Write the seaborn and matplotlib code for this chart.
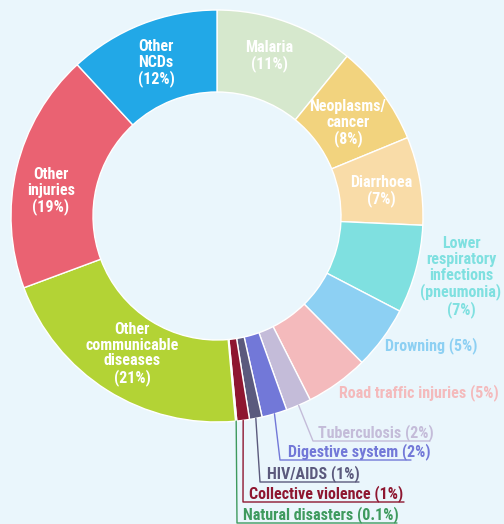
import numpy as np
import matplotlib
matplotlib.use("Agg")
import matplotlib.pyplot as plt
from matplotlib import font_manager
import seaborn as sns

# data, clockwise from 12 o'clock
causes = ["Malaria", "Neoplasms/\ncancer", "Diarrhoea",
          "Lower\nrespiratory\ninfections\n(pneumonia)", "Drowning",
          "Road traffic injuries", "Tuberculosis", "Digestive system",
          "HIV/AIDS", "Collective violence", "Natural disasters",
          "Other\ncommunicable\ndiseases", "Other\ninjuries", "Other\nNCDs"]
shares = [11, 8, 7, 7, 5, 5, 2, 2, 1, 1, 0.1, 21, 19, 12]
share_labels = ["11%", "8%", "7%", "7%", "5%", "5%", "2%", "2%", "1%",
                "1%", "0.1%", "21%", "19%", "12%"]
colors = ["#d6e8cd", "#f2d37e", "#f9dca8", "#7fe0e0", "#8dd0f3", "#f4babc",
          "#c4bcd9", "#7278d8", "#5b5a7d", "#8e1630", "#3e9a5e",
          "#b3d335", "#ea6272", "#22a8e7"]

BG = "#eaf6fc"
W, H = 504, 524
CX, CY, R, RIN = 217, 216, 206, 124

sns.set_style("white")
names = {f.name for f in font_manager.fontManager.ttflist}
fam = [f for f in ["Liberation Sans Narrow", "Roboto Condensed", "DejaVu Sans"] if f in names]
plt.rcParams["font.family"] = fam + ["DejaVu Sans"]

fig = plt.figure(figsize=(W / 100, H / 100), dpi=100, facecolor=BG)
ax = fig.add_axes([0, 0, 1, 1])
ax.set_facecolor(BG)

wedges, _ = ax.pie(shares, colors=sns.color_palette(colors), startangle=90,
                   counterclock=False, radius=R, center=(CX, H - CY),
                   wedgeprops=dict(width=R - RIN, edgecolor="white", linewidth=1))
ax.set_xlim(0, W)
ax.set_ylim(0, H)
ax.set_aspect("equal")
ax.axis("off")

fs = 11.5
# label layout: (x, y) in pixels from top-left
inside = {0: (269, 56), 1: (348, 123), 2: (381, 191),
          11: (132, 354), 12: (51, 191), 13: (156, 63)}
outside = {3: (461, 277), 4: (431, 346), 5: (419, 393)}
leadered = {6: (318, 433, 313, 430), 7: (288, 452, 280, 411),
            8: (267, 474, 260, 359), 9: (249, 494, 243, 404),
            10: (243, 515, 237, 397)}

for i, (x, y) in inside.items():
    ax.text(x, H - y, f"{causes[i]}\n({share_labels[i]})", color="white",
            ha="center", va="center", fontsize=fs, fontweight="bold",
            linespacing=1.05)

for i, (x, y) in outside.items():
    if "\n" in causes[i]:
        txt = f"{causes[i]}\n({share_labels[i]})"
    else:
        txt = f"{causes[i]} ({share_labels[i]})"
    ax.text(x, H - y, txt, color=colors[i], ha="center", va="center",
            fontsize=fs, fontweight="bold", linespacing=1.05)

for i, (tx, ty, ex, end) in leadered.items():
    w = wedges[i]
    mid = np.deg2rad((w.theta1 + w.theta2) / 2)
    sx = CX + R * np.cos(mid)
    sy = (H - CY) + R * np.sin(mid)
    ly = H - (ty + 8)
    ax.plot([sx, ex, end], [sy, ly, ly], color=colors[i], lw=1)
    ax.text(tx, H - ty, f"{causes[i]} ({share_labels[i]})", color=colors[i],
            ha="left", va="center", fontsize=fs, fontweight="bold")

fig.savefig("out.png", dpi=100, facecolor=BG)
